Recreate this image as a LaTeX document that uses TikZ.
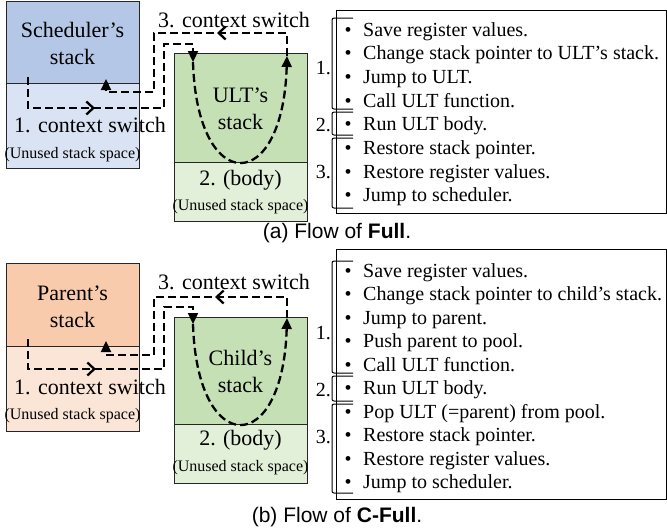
\documentclass[tikz,border=0pt]{standalone}
\usepackage{fontspec}
\setmainfont{Liberation Serif}
\setsansfont{Liberation Sans}
\usepackage{xcolor}
\usetikzlibrary{arrows.meta, positioning, decorations.markings}
\definecolor{schedtop}{HTML}{B4C7E7}
\definecolor{schedlow}{HTML}{DAE3F3}
\definecolor{ulttop}{HTML}{C5E0B4}
\definecolor{ultlow}{HTML}{E2F0D9}
\definecolor{partop}{HTML}{F8CBAD}
\definecolor{parlow}{HTML}{FBE5D6}
\tikzset{
    stackbox/.style={draw=black!85, line width=1.2pt, minimum width=133pt, inner sep=0pt, anchor=north west},
    stacklabel/.style={align=center, inner sep=0pt, font=\fontsize{22}{27}\selectfont},
    unused/.style={inner sep=0pt, font=\fontsize{16}{18}\selectfont},
    flow/.style={line width=2.3pt, dash pattern=on 8pt off 4pt, -{Triangle[length=11pt,width=10pt]}},
    midarrow/.style={postaction={decorate}, decoration={markings,
        mark=at position #1 with {\arrow{Straight Barb[length=7pt,width=13pt]}}}},
    listbox/.style={draw, line width=1.2pt, inner sep=0pt, anchor=north west, minimum width=329.5pt},
    bracket/.style={line width=1pt, rounded corners=2pt},
    steplabel/.style={anchor=east, inner sep=0pt, font=\fontsize{20}{24}\selectfont},
    listitem/.style={anchor=base west, inner sep=0pt, font=\fontsize{20}{24}\selectfont},
    bulletmark/.style={anchor=base, inner sep=0pt, font=\fontsize{20}{24}\selectfont},
    caption/.style={inner sep=0pt, font=\sffamily\fontsize{21}{25}\selectfont},
}

\begin{document}
\begin{tikzpicture}[x=1pt, y=-1pt]
    \useasboundingbox (0,0) rectangle (667,531);

    % ---- (a) Full ----
    \node[stackbox, fill=schedtop, minimum height=82pt] (schedtop) at (6,1) {};
    \node[stackbox, fill=schedlow, minimum height=85pt] (schedlow) at (6,83) {};
    \node[stackbox, fill=ulttop, minimum height=109pt] (ulttop) at (174,53) {};
    \node[stackbox, fill=ultlow, minimum height=59pt] (ultlow) at (174,162) {};

    \node[stacklabel] (schedname) at (72.5,43) {Scheduler's\\stack};
    \node[stacklabel] (switchin) at (90,125) {1. context switch};
    \node[unused] (schedfree) at (72.5,155) {(Unused stack space)};
    \node[stacklabel] (switchout) at (234,20) {3. context switch};
    \node[stacklabel] (ultname) at (240.5,109) {ULT's\\stack};
    \node[stacklabel] (ultbody) at (240.5,180) {2. (body)};
    \node[unused] (ultfree) at (240.5,207) {(Unused stack space)};

    \coordinate (goa) at (28,77);
    \coordinate (ina) at (193,62);
    \coordinate (outa) at (287,56);
    \coordinate (backa) at (106,79);
    \draw[flow, midarrow=98pt] (goa) |- (164,108) -- (164,44) -| (ina);
    \draw[flow] (ina) .. controls (197,196) and (283,196) .. (outa);
    \draw[flow, midarrow=93pt] (outa) -- (287,33) -| (154,92) -| (backa);

    \node[listbox, minimum height=203pt] (lista) at (336,10) {};
    \draw[bracket] (353,18) -| (332,109) -- (353,109);
    \draw[bracket] (353,112) -| (332,135) -- (353,135);
    \draw[bracket] (353,138) -| (332,208) -- (353,208);
    \node[steplabel] (stepa1) at (331,68) {1.};
    \node[steplabel] (stepa2) at (331,125) {2.};
    \node[steplabel] (stepa3) at (331,172) {3.};
    \foreach \txt [count=\i from 0] in {{Save register values.},
        {Change stack pointer to ULT's stack.}, {Jump to ULT.},
        {Call ULT function.}, {Run ULT body.}, {Restore stack pointer.},
        {Restore register values.}, {Jump to scheduler.}} {
        \node[bulletmark] at (348,{36+23.7*\i}) {\textbullet};
        \node[listitem] at (363,{36+23.7*\i}) {\txt};
    }
    \node[caption] (capa) at (337,233) {(a) Flow of \textbf{Full}.};

    % ---- (b) C-Full ----
    \node[stackbox, fill=partop, minimum height=83pt] (partop) at (6,263) {};
    \node[stackbox, fill=parlow, minimum height=85pt] (parlow) at (6,346) {};
    \node[stackbox, fill=ulttop, minimum height=107pt] (childtop) at (174,317) {};
    \node[stackbox, fill=ultlow, minimum height=59pt] (childlow) at (174,424) {};

    \node[stacklabel] (parname) at (72.5,306.5) {Parent's\\stack};
    \node[stacklabel] (switchinb) at (90,387) {1. context switch};
    \node[unused] (parfree) at (72.5,416) {(Unused stack space)};
    \node[stacklabel] (switchoutb) at (234,282) {3. context switch};
    \node[stacklabel] (childname) at (240.5,371.5) {Child's\\stack};
    \node[stacklabel] (childbody) at (240.5,440) {2. (body)};
    \node[unused] (childfree) at (240.5,468) {(Unused stack space)};

    \coordinate (gob) at (28,339);
    \coordinate (inb) at (193,324);
    \coordinate (outb) at (287,318);
    \coordinate (backb) at (106,341);
    \draw[flow, midarrow=98pt] (gob) |- (164,369) -- (164,307) -| (inb);
    \draw[flow] (inb) .. controls (197,458) and (283,458) .. (outb);
    \draw[flow, midarrow=93pt] (outb) -- (287,297) -| (154,355) -| (backb);

    \node[listbox, minimum height=250pt] (listb) at (336,249) {};
    \draw[bracket] (353,261) -| (332,373) -- (353,373);
    \draw[bracket] (353,376) -| (332,401) -- (353,401);
    \draw[bracket] (353,404) -| (332,493) -- (353,493);
    \node[steplabel] (stepb1) at (331,333) {1.};
    \node[steplabel] (stepb2) at (331,390) {2.};
    \node[steplabel] (stepb3) at (331,437) {3.};
    \foreach \txt [count=\i from 0] in {{Save register values.},
        {Change stack pointer to child's stack.}, {Jump to parent.},
        {Push parent to pool.}, {Call ULT function.}, {Run ULT body.},
        {Pop ULT (=parent) from pool.}, {Restore stack pointer.},
        {Restore register values.}, {Jump to scheduler.}} {
        \node[bulletmark] at (348,{277+23.5*\i}) {\textbullet};
        \node[listitem] at (363,{277+23.5*\i}) {\txt};
    }
    \node[caption] (capb) at (337,517) {(b) Flow of \textbf{C-Full}.};
\end{tikzpicture}
\end{document}
